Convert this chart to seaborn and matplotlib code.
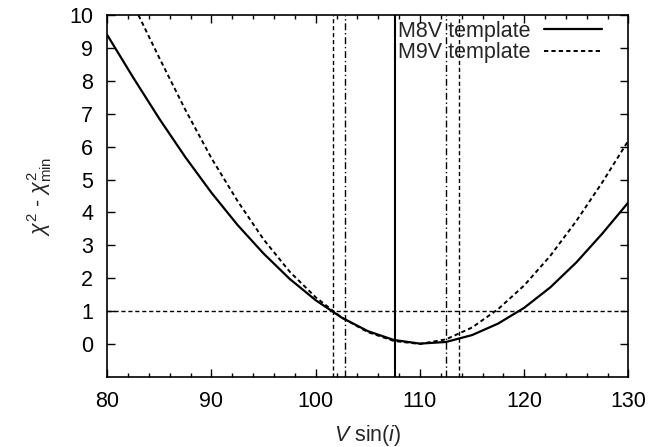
import numpy as np
import pandas as pd
import matplotlib
matplotlib.use("Agg")
import matplotlib.pyplot as plt
import seaborn as sns
from matplotlib.ticker import MultipleLocator

# ---- data ----
vsini_m8 = [80, 82.5, 85, 87.5, 90, 92.5, 95, 97.5, 100, 102.5, 105, 107.5,
            110, 112.5, 115, 117.5, 120, 122.5, 125, 127.5, 130]
chi_m8 = [9.40, 8.10, 6.85, 5.68, 4.60, 3.62, 2.75, 1.98, 1.33, 0.80, 0.39, 0.12,
          0.01, 0.06, 0.27, 0.62, 1.10, 1.72, 2.48, 3.36, 4.31]
vsini_m9 = [83, 85, 87.5, 90, 92.5, 95, 97.5, 100, 102.5, 105, 107.5,
            110, 112.5, 115, 117.5, 120, 122.5, 125, 127.5, 130]
chi_m9 = [10.0, 8.70, 7.12, 5.65, 4.35, 3.18, 2.20, 1.42, 0.80, 0.36, 0.09,
          0.00, 0.14, 0.50, 1.06, 1.78, 2.68, 3.74, 4.92, 6.19]
best_fit = [107.6]
err_dashed = [101.7, 113.7]
err_dashdot = [102.8, 112.5]
delta_chi_level = [1.0]
labels = ["M8V template", "M9V template"]

# ---- style ----
sns.set_theme(style="ticks")
plt.rcParams["font.family"] = ["Liberation Sans", "DejaVu Sans"]
plt.rcParams["mathtext.fontset"] = "custom"
plt.rcParams["mathtext.rm"] = "Liberation Sans"
plt.rcParams["mathtext.it"] = "Liberation Sans:italic"
plt.rcParams["mathtext.bf"] = "Liberation Sans:bold"

FS = 15.5
fig = plt.figure(figsize=(6.70, 4.47), dpi=100)
ax = fig.add_axes([0.160, 0.157, 0.778, 0.809])

df8 = pd.DataFrame({"x": vsini_m8, "y": chi_m8})
df9 = pd.DataFrame({"x": vsini_m9, "y": chi_m9})
sns.lineplot(data=df8, x="x", y="y", ax=ax, color="black", lw=1.6,
             label=labels[0], sort=False)
sns.lineplot(data=df9, x="x", y="y", ax=ax, color="black", lw=1.4,
             linestyle=(0, (2.2, 1.6)), label=labels[1], sort=False)

for v in best_fit:
    ax.axvline(v, color="black", lw=1.5)
for v in err_dashed:
    ax.axvline(v, color="black", lw=1.0, linestyle=(0, (3, 2)))
for v in err_dashdot:
    ax.axvline(v, color="black", lw=1.0, linestyle=(0, (5, 2, 1, 2)))
for v in delta_chi_level:
    ax.axhline(v, color="black", lw=1.0, linestyle=(0, (3, 2)))

ax.set_xlim(80, 130)
ax.set_ylim(-1, 10)
ax.xaxis.set_major_locator(MultipleLocator(10))
ax.xaxis.set_minor_locator(MultipleLocator(2))
ax.set_yticks(range(0, 11))

ax.tick_params(which="both", direction="in", top=True, right=True,
               labelsize=FS, colors="black", width=1.0)
ax.tick_params(which="major", length=6, pad=10)
ax.tick_params(which="minor", length=3)
for s in ax.spines.values():
    s.set_visible(True)
    s.set_linewidth(1.2)
    s.set_color("black")

ax.set_xlabel(r"$V$ sin($i$)", fontsize=FS, labelpad=8)
ax.set_ylabel(r"$\chi^2$ - $\chi^2_{\rm min}$", fontsize=FS, labelpad=11)

leg = ax.legend(loc="upper right", bbox_to_anchor=(0.950, 0.985),
                frameon=False, markerfirst=False,
                fontsize=FS, handlelength=2.7, handletextpad=0.65,
                borderaxespad=0.0, borderpad=0.0, labelspacing=0.02)

fig.savefig("out.png", dpi=100)
